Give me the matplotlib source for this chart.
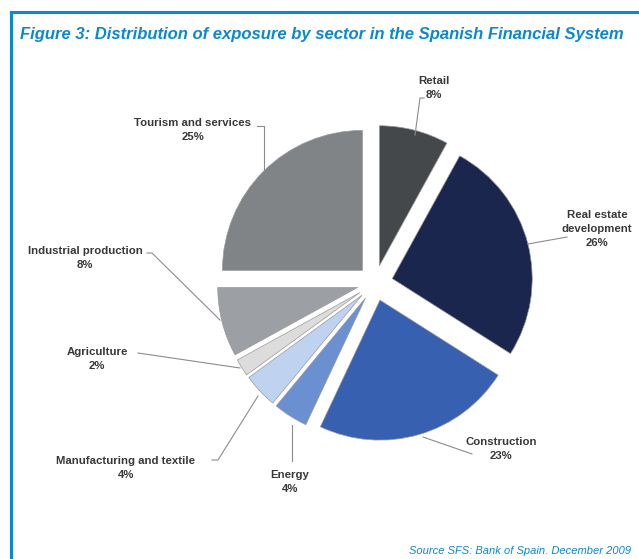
import matplotlib
matplotlib.use('Agg')
import matplotlib.pyplot as plt

sectors = ['Retail', 'Real estate\ndevelopment', 'Construction', 'Energy',
           'Manufacturing and textile', 'Agriculture', 'Industrial production',
           'Tourism and services']
shares = [8, 26, 23, 4, 4, 2, 8, 25]
colors = ['#45484b', '#1b264e', '#3760b0', '#6a90d2', '#bfd3f0', '#dcdcdc',
          '#9c9fa3', '#818487']

blue = '#0a88d0'

W, H = 639, 559
fig = plt.figure(figsize=(W / 100, H / 100), dpi=100)
ax = fig.add_axes([0, 0, 1, 1])

# pie in pixel units (y measured from the bottom)
cx, cy, R = 375, H - 283, 140
wedges, _ = ax.pie(shares, colors=colors, startangle=90, counterclock=False,
                   radius=R, center=(cx, cy), explode=[17.8] * len(shares),
                   wedgeprops=dict(edgecolor='#9a9a9a', linewidth=0.5))
ax.set_xlim(0, W)
ax.set_ylim(0, H)
ax.set_aspect('auto')
ax.axis('off')

# border
ax.plot([11, 11, W + 5], [-5, H - 12, H - 12], color=blue, lw=2.2,
        solid_joinstyle='miter', clip_on=False)

title = fig.text(20 / W, 1 - 35 / H,
                 'Figure 3: Distribution of exposure by sector in the Spanish Financial System',
                 ha='left', va='center', color=blue, fontsize=13.5, fontweight='bold',
                 fontstyle='italic', family='Liberation Sans')
# shrink title to fit the width of the reference
renderer = fig.canvas.get_renderer()
w = title.get_window_extent(renderer).width
title.set_fontsize(13.5 * 605 / w)

fig.text(631 / W, 1 - 551 / H, 'Source SFS: Bank of Spain. December 2009',
         ha='right', va='center', color=blue, fontsize=8, fontstyle='italic',
         family='Liberation Sans')

# label text centre and leader line points (pixels, from top)
label_pos = [(434, 88), (597, 229), (501, 449), (290, 482), (126, 468),
             (97, 359), (85, 258), (193, 130)]
leaders = [
    [(424, 98), (420, 98), (415, 135)],
    [(567, 237), (528, 244)],
    [(472, 454), (423, 437)],
    [(292, 461), (292, 425)],
    [(212, 460), (218, 460), (258, 396)],
    [(138, 353), (240, 368)],
    [(147, 253), (152, 253), (220, 320)],
    [(257, 126), (264, 126), (264, 170)],
]

for name, val, (tx, ty), pts in zip(sectors, shares, label_pos, leaders):
    ax.text(tx, H - ty, f'{name}\n{val}%', ha='center', va='center',
            fontsize=8.2, fontweight='bold', color='#383838',
            family='Liberation Sans', linespacing=1.45)
    xs = [p[0] for p in pts]
    ys = [H - p[1] for p in pts]
    ax.plot(xs, ys, color='#8c8c8c', lw=0.8)

fig.savefig('out.png', dpi=100)
